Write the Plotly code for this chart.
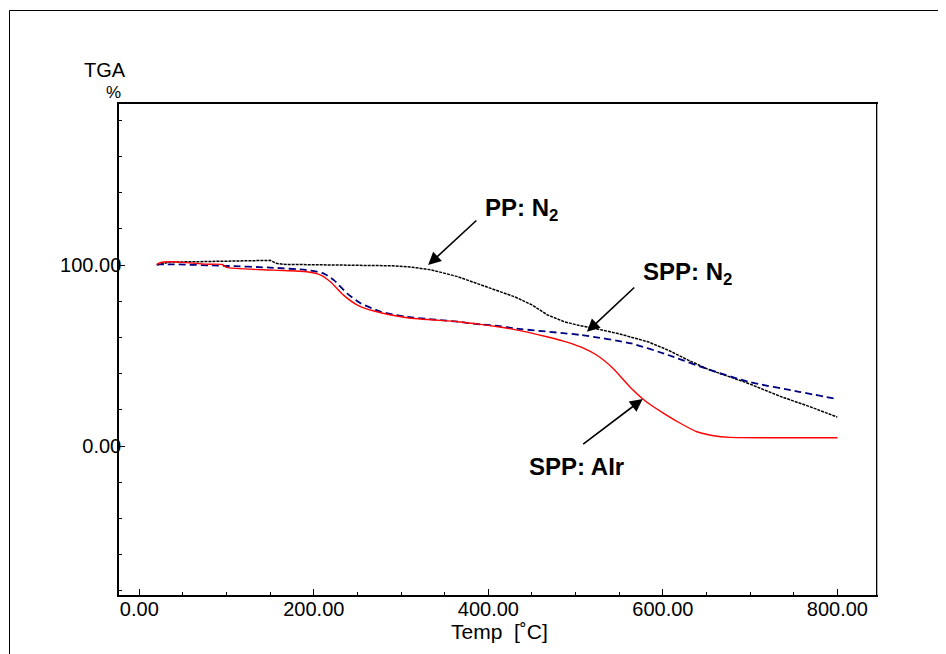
import plotly.graph_objects as go

# PP: N2 (black dotted)
pp_x = [20, 35, 60, 100, 130, 150, 157, 165, 200, 250, 290, 310, 335, 365, 390, 413, 430, 450, 468, 487, 505, 522, 550, 583, 606, 629, 652, 675, 698, 736, 770, 800]
pp_y = [100, 101.7, 101.8, 102.2, 102.4, 102.6, 101, 100.4, 100.2, 100, 99.6, 99, 97.3, 93.6, 89.5, 85.3, 82.5, 78, 72.4, 68.7, 66.5, 65, 62, 57.6, 53, 47.5, 42.4, 38.5, 34.6, 27.2, 21.5, 16]

# SPP: N2 (navy dashed)
sppn_x = [20, 40, 97, 154, 192, 211, 223, 238, 254, 277, 307, 365, 391, 413, 430, 507, 564, 606, 652, 698, 756, 800]
sppn_y = [100.4, 100.4, 99.6, 98.5, 97.2, 95.4, 91.7, 84.4, 78.8, 74.2, 71.4, 68.7, 67.2, 66.3, 65, 61.3, 56.7, 50.3, 42.4, 35.5, 30, 26]

# SPP: Air (red solid)
sppa_x = [20, 24, 35, 50, 77, 95, 100, 154, 192, 208, 219, 234, 250, 269, 307, 365, 391, 429, 467, 486, 505, 524, 543, 562, 581, 601, 620, 639, 658, 677, 740, 800]
sppa_y = [100.3, 101.3, 101.8, 101.5, 100.5, 100.3, 98.7, 97.2, 96.3, 94.5, 90.8, 83.4, 77.9, 74.6, 70.9, 68.7, 67.2, 64.5, 60.4, 58, 54.9, 50.3, 42.9, 32.8, 24.5, 18.1, 12.6, 7.9, 5.7, 4.8, 4.6, 4.6]

FONT = "Liberation Sans, Arial, sans-serif"

fig = go.Figure()
fig.add_trace(go.Scatter(x=pp_x, y=pp_y, mode="lines",
                         line=dict(color="black", width=1.5, dash="3px,1px"), name="PP: N2"))
fig.add_trace(go.Scatter(x=sppn_x, y=sppn_y, mode="lines", line_shape="spline",
                         line=dict(color="#000080", width=1.8, dash="7px,4px", smoothing=0.6),
                         name="SPP: N2"))
fig.add_trace(go.Scatter(x=sppa_x, y=sppa_y, mode="lines", line_shape="spline",
                         line=dict(color="#ff0000", width=1.4, smoothing=0.6), name="SPP: Air"))

ann = []
# arrows (tip at x,y; tail at ax,ay)
for tip, tail in [((331, 100), (388, 125.4)),
                  ((513, 63.1), (569, 88.4)),
                  ((577, 26), (507, 0.5))]:
    ann.append(dict(x=tip[0], y=tip[1], ax=tail[0], ay=tail[1], xref="x", yref="y",
                    axref="x", ayref="y", text="", showarrow=True, arrowhead=2,
                    arrowsize=1.6, arrowwidth=1.6, arrowcolor="black", standoff=0))
lab_font = dict(family=FONT, size=24, color="black")
ann.append(dict(x=393.5, y=130.5, xref="x", yref="y", xanchor="left", yanchor="middle",
                text="<b>PP: N<sub>2</sub></b>", showarrow=False, font=lab_font))
ann.append(dict(x=575.5, y=95.5, xref="x", yref="y", xanchor="left", yanchor="middle",
                text="<b>SPP: N<sub>2</sub></b>", showarrow=False, font=lab_font))
ann.append(dict(x=444, y=-11.3, xref="x", yref="y", xanchor="left", yanchor="middle",
                text="<b>SPP: AIr</b>", showarrow=False, font=lab_font))
ax_font = dict(family=FONT, size=20, color="black")
ann.append(dict(x=(82 - 119) / 757, y=(595 - 70) / 491, xref="paper", yref="paper",
                xanchor="left", yanchor="middle", text="TGA", showarrow=False, font=ax_font))
ann.append(dict(x=(104 - 119) / 757, y=(595 - 92) / 491, xref="paper", yref="paper",
                xanchor="left", yanchor="middle", text="%", showarrow=False,
                font=dict(family=FONT, size=17, color="black")))
ann.append(dict(x=(499 - 119) / 757, y=(595 - 631) / 491, xref="paper", yref="paper",
                xanchor="center", yanchor="middle", text="Temp  [˚C]", showarrow=False,
                font=dict(family=FONT, size=21, color="black")))

shapes = [
    dict(type="line", xref="paper", yref="paper", x0=(9.5 - 119) / 757, x1=(946 - 119) / 757,
         y0=(595 - 10.5) / 491, y1=(595 - 10.5) / 491, line=dict(color="black", width=1)),
    dict(type="line", xref="paper", yref="paper", x0=(9.5 - 119) / 757, x1=(9.5 - 119) / 757,
         y0=(595 - 10.5) / 491, y1=(595 - 660) / 491, line=dict(color="black", width=1)),
    dict(type="line", xref="paper", yref="paper", x0=(877.5 - 119) / 757, x1=(877.5 - 119) / 757,
         y0=1, y1=0, line=dict(color="#b0b0b0", width=1)),
]

# the page body has an 8px margin, so the margins are reduced by 8px on the left and top
fig.update_layout(
    width=946, height=654,
    margin=dict(l=111, r=78, t=96, b=67),
    paper_bgcolor="white", plot_bgcolor="white",
    showlegend=False,
    font=dict(family=FONT, size=20, color="black"),
    annotations=ann, shapes=shapes,
    xaxis=dict(range=[-23.3, 844.3], tick0=0, dtick=200, tickformat=".2f",
               ticks="inside", ticklen=6, tickwidth=1, tickcolor="black",
               minor=dict(dtick=50, ticks="inside", ticklen=3, tickcolor="black"),
               showline=True, linecolor="black", linewidth=1.5, mirror=True,
               showgrid=False, zeroline=False, tickfont=ax_font, ticklabelstandoff=-5),
    yaxis=dict(range=[-82.3, 189], tick0=0, dtick=100, tickformat=".2f",
               ticks="inside", ticklen=6, tickwidth=1, tickcolor="black",
               minor=dict(dtick=20, ticks="inside", ticklen=3, tickcolor="black"),
               showline=True, linecolor="black", linewidth=1.5, mirror=True,
               showgrid=False, zeroline=False, tickfont=ax_font, ticklabelstandoff=-8),
)

fig.write_html("out.html")
